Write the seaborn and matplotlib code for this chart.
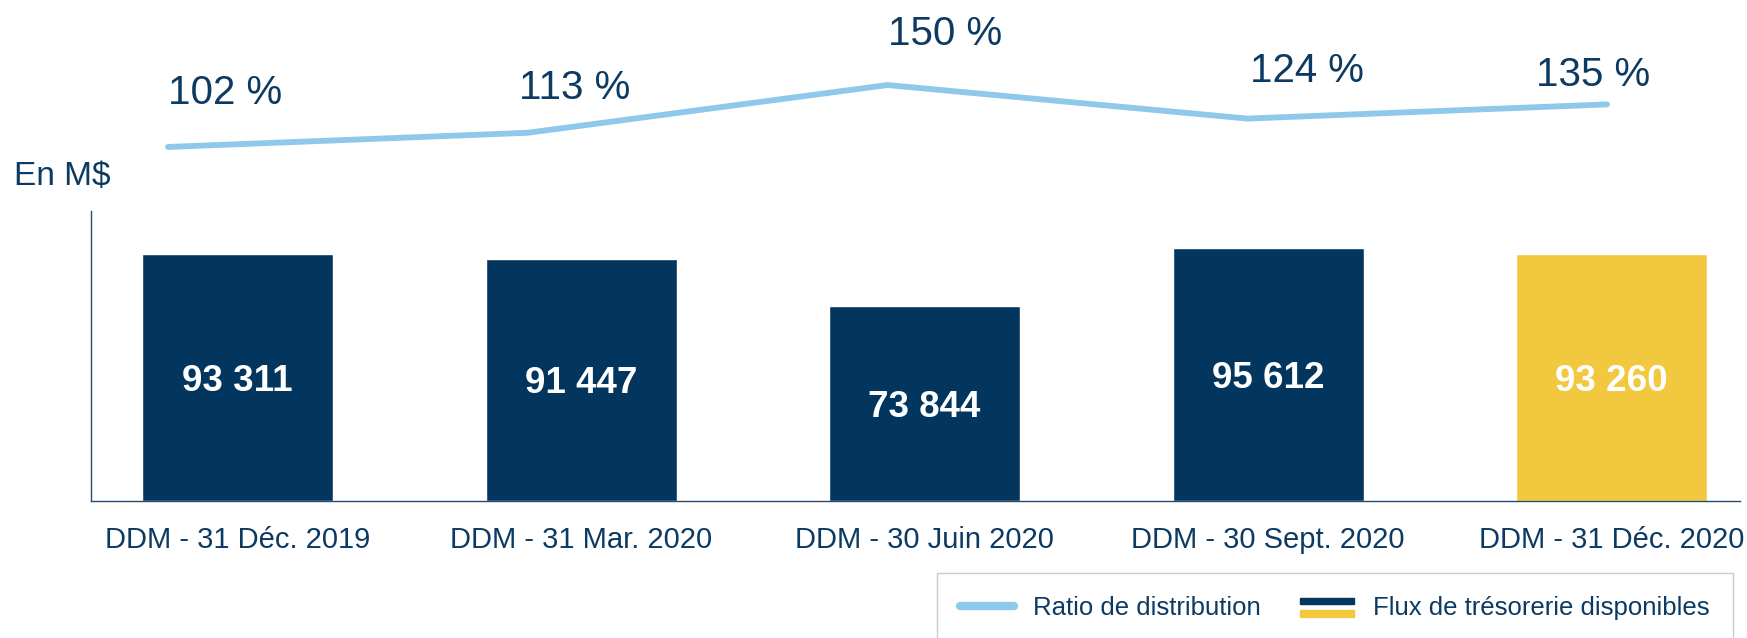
import matplotlib
matplotlib.use("Agg")
import matplotlib.pyplot as plt
import seaborn as sns
import pandas as pd
from matplotlib.lines import Line2D
from matplotlib.patches import Rectangle

# ---- data ----
periods = ["DDM - 31 Déc. 2019", "DDM - 31 Mar. 2020", "DDM - 30 Juin 2020",
           "DDM - 30 Sept. 2020", "DDM - 31 Déc. 2020"]
flux = [93311, 91447, 73844, 95612, 93260]
ratio = [102, 113, 150, 124, 135]
unit_label = "En M$"
legend_ratio = "Ratio de distribution"
legend_flux = "Flux de trésorerie disponibles"

# ---- style ----
NAVY = "#03365F"
YELLOW = "#F2C83E"
LIGHT = "#8EC8EA"
TEXT = "#0C3A63"
bar_colors = [NAVY, NAVY, NAVY, NAVY, YELLOW]

sns.set_theme(style="white")
plt.rcParams["font.family"] = ["Liberation Sans", "DejaVu Sans"]

W, H = 1747, 638
fig = plt.figure(figsize=(W / 100, H / 100), dpi=100)

# bar axes
ax = fig.add_axes([91 / W, 1 - 501 / H, (1740 - 91) / W, (501 - 211) / H])
df = pd.DataFrame({"periode": periods, "flux": flux, "ratio": ratio})
sns.barplot(data=df, x="periode", y="flux", hue="periode", palette=bar_colors,
            width=0.556, saturation=1, legend=False, ax=ax)
ax.set_xlim(-0.4265, 4.374)
ax.set_ylim(0, 109557)
ax.set_xlabel("")
ax.set_ylabel("")
ax.set_yticks([])
ax.tick_params(axis="x", length=0, pad=18, labelsize=21, labelcolor=TEXT)
for s in ["top", "right"]:
    ax.spines[s].set_visible(False)
for s in ["left", "bottom"]:
    ax.spines[s].set_color("#2C4A6E")
    ax.spines[s].set_linewidth(1.0)

for cont, v in zip(ax.containers, flux):
    txts = ax.bar_label(cont, labels=[f"{v:,}".replace(",", " ")], label_type="center",
                        color="white", fontsize=26.5, fontweight="bold")
    for t in txts:
        t.set_va("center_baseline")

# line axes
axl = fig.add_axes([168 / W, 1 - 200 / H, (1607 - 168) / W, 200 / H])
axl.patch.set_alpha(0)
dfl = pd.DataFrame({"i": range(len(ratio)), "ratio": ratio})
sns.lineplot(data=dfl, x="i", y="ratio", color=LIGHT, linewidth=4.2, ax=axl,
             solid_capstyle="round", solid_joinstyle="round")
for ln in axl.lines:
    ln.set_clip_on(False)
axl.set_xlim(0, 4)
axl.set_ylim(60.9, 215.9)
axl.axis("off")

label_offsets = [(0, 31, "left"), (-6, 24, "left"), (0, 29, "left"),
                 (2, 26, "left"), (-10, 13, "center")]
for i, r in enumerate(ratio):
    dx, dy, ha = label_offsets[i]
    axl.annotate(f"{r} %", xy=(i, r), xytext=(dx, dy), textcoords="offset points",
                 ha=ha, va="baseline", fontsize=29, color=TEXT, annotation_clip=False)

fig.text(14 / W, 1 - 176 / H, unit_label, fontsize=24, color=TEXT, va="center", ha="left")


# legend
class StackHandler:
    def legend_artist(self, legend, orig_handle, fontsize, handlebox):
        x0, y0 = handlebox.xdescent, handlebox.ydescent
        w, h = handlebox.width, handlebox.height
        tr = handlebox.get_transform()
        r1 = Rectangle((x0, y0 + h * 0.62), w, h * 0.34, color=NAVY, transform=tr)
        r2 = Rectangle((x0, y0 - h * 0.08), w, h * 0.34, color=YELLOW, transform=tr)
        handlebox.add_artist(r1)
        handlebox.add_artist(r2)
        return r1


class FluxHandle:
    pass


handles = [Line2D([], [], color=LIGHT, linewidth=6), FluxHandle()]
leg = fig.legend(handles, [legend_ratio, legend_flux], ncol=2,
                 handler_map={FluxHandle: StackHandler()},
                 loc="upper left", bbox_to_anchor=(937 / W, 1 - 573 / H),
                 borderaxespad=0, fontsize=18.5, frameon=True, fancybox=False,
                 edgecolor="#BFBFBF", handlelength=2.1, handletextpad=0.75,
                 columnspacing=1.5, borderpad=0.9, labelcolor=TEXT)
leg.get_frame().set_linewidth(1.0)

fig.savefig("out.png", dpi=100)
